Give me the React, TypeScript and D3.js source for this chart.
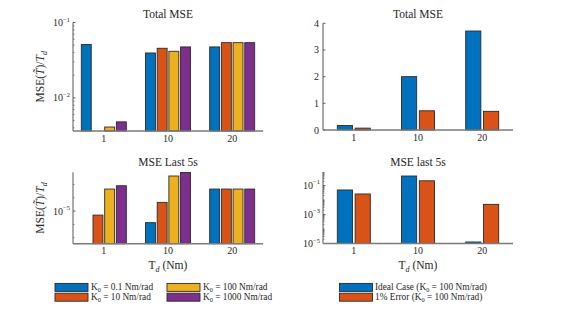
import React from "react";
import * as d3 from "d3";

const categories = ["1", "10", "20"];

const seriesLeftNames = ["K0 = 0.1", "K0 = 10", "K0 = 100", "K0 = 1000"];
const legendLeftValues = ["0.1", "10", "100", "1000"];
const colorsLeft = ["#0072BD", "#D95319", "#EDB120", "#7E2F8E"];

// Total MSE (left, log)
const totalK01 = [0.051, 0.0394, 0.0474];
const totalK10 = [null, 0.0455, 0.054];
const totalK100 = [0.0041, 0.0415, 0.054];
const totalK1000 = [0.0048, 0.0474, 0.054];

// MSE last 5s (left, log)
const lastK01 = [1e-7, 6.7e-6, 2.14e-5];
const lastK10 = [8.7e-6, 1.35e-5, 2.14e-5];
const lastK100 = [2.14e-5, 3.36e-5, 2.14e-5];
const lastK1000 = [2.4e-5, 3.8e-5, 2.14e-5];

// Right panels
const seriesRightNames = ["Ideal Case", "1% Error"];
const colorsRight = ["#0072BD", "#D95319"];
const totalIdeal = [0.17, 2.0, 3.71];
const totalError = [0.07, 0.72, 0.7];
const lastIdeal = [0.049, 0.45, 1.27e-5];
const lastError = [0.026, 0.21, 0.005];

const topLinearTicks = [0, 1, 2, 3, 4];

const FONT = "'Liberation Serif', 'DejaVu Serif', serif";

type Panel = {
  x0: number;
  x1: number;
  y0: number;
  y1: number;
  yScale: any;
  series: (number | null)[][];
  colors: string[];
  groupWidth: number;
  title: string;
  titleY: number;
  log: boolean;
  majorTicks: number[];
  minorTicks: number[];
  xlabel: boolean;
  ylabel: boolean;
};

function Pow10({ x, y, exp }: { x: number; y: number; exp: number }) {
  return (
    <text x={x} y={y} textAnchor="end" fontFamily={FONT} fontSize={10} fill="#262626">
      10
      <tspan dy={-4.5} fontSize={6.5}>
        {"\u2212" + Math.abs(exp)}
      </tspan>
    </text>
  );
}

function YLabel({ x, y }: { x: number; y: number }) {
  return (
    <text
      transform={`translate(${x},${y}) rotate(-90)`}
      textAnchor="middle"
      fontFamily={FONT}
      fontSize={11.5}
      fill="#262626"
    >
      MSE(
      <tspan fontStyle="italic">{"T\u0303"}</tspan>
      )/
      <tspan fontStyle="italic">T</tspan>
      <tspan fontStyle="italic" fontSize={8} dy={2.5}>
        d
      </tspan>
    </text>
  );
}

function XLabel({ x, y }: { x: number; y: number }) {
  return (
    <text x={x} y={y} textAnchor="middle" fontFamily={FONT} fontSize={11.5} fill="#262626">
      T
      <tspan fontSize={8} fontStyle="italic" dy={2.5}>
        d
      </tspan>
      <tspan dy={-2.5}> (Nm)</tspan>
    </text>
  );
}

function PanelView({ p }: { p: Panel }) {
  const xScale = d3.scalePoint<string>().domain(categories).range([p.x0, p.x1]).padding(0.48);
  const inner = d3
    .scaleBand<number>()
    .domain(d3.range(p.series.length))
    .range([-p.groupWidth / 2, p.groupWidth / 2])
    .paddingInner(0.15);
  const [dmin, dmax] = p.yScale.domain();
  const clamp = (v: number) => Math.max(dmin, Math.min(dmax, v));
  const yBase = p.y1;
  const cx = (p.x0 + p.x1) / 2;
  return (
    <g>
      <text x={cx} y={p.titleY} textAnchor="middle" fontFamily={FONT} fontSize={11.5} fill="#262626">
        {p.title}
      </text>
      {p.series.map((vals, si) =>
        vals.map((v, ci) => {
          if (v === null) return null;
          const xc = (xScale(categories[ci]) as number) + (inner(si) as number);
          const yt = p.yScale(clamp(v));
          return (
            <rect
              key={`${si}-${ci}`}
              x={xc}
              y={yt}
              width={inner.bandwidth()}
              height={Math.max(0, yBase - yt)}
              fill={p.colors[si]}
              stroke="#2a2a2a"
              strokeWidth={0.9}
            />
          );
        })
      )}
      {p.minorTicks.map((t, i) => (
        <line key={`mi${i}`} x1={p.x0} x2={p.x0 + 1.5} y1={p.yScale(t)} y2={p.yScale(t)} stroke="#555" strokeWidth={0.7} />
      ))}
      {p.majorTicks.map((t, i) => (
        <line key={`ma${i}`} x1={p.x0} x2={p.x0 + 2.5} y1={p.yScale(t)} y2={p.yScale(t)} stroke="#444" strokeWidth={0.8} />
      ))}
      {p.majorTicks.map((t, i) =>
        p.log ? (
          <Pow10 key={`ml${i}`} x={p.x0 - 3} y={p.yScale(t) + 3.5} exp={Math.round(Math.log10(t))} />
        ) : (
          <text
            key={`ml${i}`}
            x={p.x0 - 4}
            y={p.yScale(t) + 3.5}
            textAnchor="end"
            fontFamily={FONT}
            fontSize={10}
            fill="#262626"
          >
            {t}
          </text>
        )
      )}
      <line x1={p.x0} x2={p.x0} y1={p.y0} y2={p.y1} stroke="#444" strokeWidth={0.9} />
      <line x1={p.x0} x2={p.x1} y1={p.y1} y2={p.y1} stroke="#7a7a7a" strokeWidth={1.4} />
      {categories.map((c) => (
        <text
          key={c}
          x={xScale(c) as number}
          y={p.y1 + 10.5}
          textAnchor="middle"
          fontFamily={FONT}
          fontSize={10}
          fill="#262626"
        >
          {c}
        </text>
      ))}
      {p.xlabel && <XLabel x={cx} y={p.y1 + 25.5} />}
      {p.ylabel && <YLabel x={44} y={(p.y0 + p.y1) / 2} />}
    </g>
  );
}

function logMinor(lo: number, hi: number) {
  const out: number[] = [];
  for (let e = Math.floor(Math.log10(lo)); e <= Math.ceil(Math.log10(hi)); e++) {
    for (let m = 2; m <= 9; m++) {
      const v = m * Math.pow(10, e);
      if (v >= lo && v <= hi) out.push(v);
    }
  }
  return out;
}

export default function App() {
  const tlY = d3.scaleLog().domain([Math.pow(10, -2.44), 0.1]).range([131, 22.5]);
  const trY = d3.scaleLinear().domain([0, 4]).range([130, 23.3]);
  const blY = d3.scaleLog().domain([Math.pow(10, -5.49), Math.pow(10, -4.418)]).range([243.7, 172.3]);
  const brY = d3.scaleLog().domain([1e-5, Math.pow(10, -0.07)]).range([243.5, 172]);

  const panels: Panel[] = [
    {
      x0: 73, x1: 263, y0: 22.5, y1: 131, yScale: tlY,
      series: [totalK01, totalK10, totalK100, totalK1000], colors: colorsLeft, groupWidth: 45,
      title: "Total MSE", titleY: 17.5, log: true, majorTicks: [0.1, 0.01],
      minorTicks: logMinor(Math.pow(10, -2.44), 0.1), xlabel: false, ylabel: true,
    },
    {
      x0: 323, x1: 513, y0: 23.3, y1: 130, yScale: trY,
      series: [totalIdeal, totalError], colors: colorsRight, groupWidth: 33,
      title: "Total MSE", titleY: 17.5, log: false, majorTicks: topLinearTicks,
      minorTicks: [], xlabel: false, ylabel: false,
    },
    {
      x0: 73, x1: 263, y0: 172.3, y1: 243.7, yScale: blY,
      series: [lastK01, lastK10, lastK100, lastK1000], colors: colorsLeft, groupWidth: 45,
      title: "MSE Last 5s", titleY: 166, log: true, majorTicks: [1e-5],
      minorTicks: [-2, -1, 1, 2].map((k) => Math.pow(10, -5 + 0.2 * k)), xlabel: true, ylabel: true,
    },
    {
      x0: 323, x1: 513, y0: 172, y1: 243.5, yScale: brY,
      series: [lastIdeal, lastError], colors: colorsRight, groupWidth: 33,
      title: "MSE last 5s", titleY: 166, log: true, majorTicks: [0.1, 1e-3, 1e-5],
      minorTicks: logMinor(1e-5, Math.pow(10, -0.07)).concat([0.01, 1e-4]), xlabel: true, ylabel: false,
    },
  ];

  const row1 = 287.4;
  const rowStep = 9.8;
  const legendLeft = [
    { i: 0, x: 55, y: row1 },
    { i: 1, x: 55, y: row1 + rowStep },
    { i: 2, x: 167, y: row1 },
    { i: 3, x: 167, y: row1 + rowStep },
  ];
  const legendRightLabels = ["Ideal Case (", "1% Error ("];

  return (
    <svg
      width={567}
      height={315}
      style={{ display: "block", position: "absolute", left: 0, top: 0 }}
    >
      <rect x={0} y={0} width={567} height={315} fill="#ffffff" />
      {panels.map((p, i) => (
        <PanelView key={i} p={p} />
      ))}
      {legendLeft.map((l) => (
        <g key={seriesLeftNames[l.i]}>
          <rect x={l.x} y={l.y - 4} width={33} height={8} fill={colorsLeft[l.i]} stroke="#2a2a2a" strokeWidth={0.9} />
          <text x={l.x + 36} y={l.y + 3} fontFamily={FONT} fontSize={9.3} fill="#262626">
            K
            <tspan fontSize={6.3} dy={1.6}>0</tspan>
            <tspan dy={-1.6}>{` = ${legendLeftValues[l.i]} Nm/rad`}</tspan>
          </text>
        </g>
      ))}
      {seriesRightNames.map((n, i) => (
        <g key={n}>
          <rect x={339.5} y={row1 + i * rowStep - 4} width={33} height={8} fill={colorsRight[i]} stroke="#2a2a2a" strokeWidth={0.9} />
          <text x={375} y={row1 + i * rowStep + 3} fontFamily={FONT} fontSize={9.3} fill="#262626">
            {legendRightLabels[i]}K
            <tspan fontSize={6.3} dy={1.6}>0</tspan>
            <tspan dy={-1.6}>{" = 100 Nm/rad)"}</tspan>
          </text>
        </g>
      ))}
    </svg>
  );
}
